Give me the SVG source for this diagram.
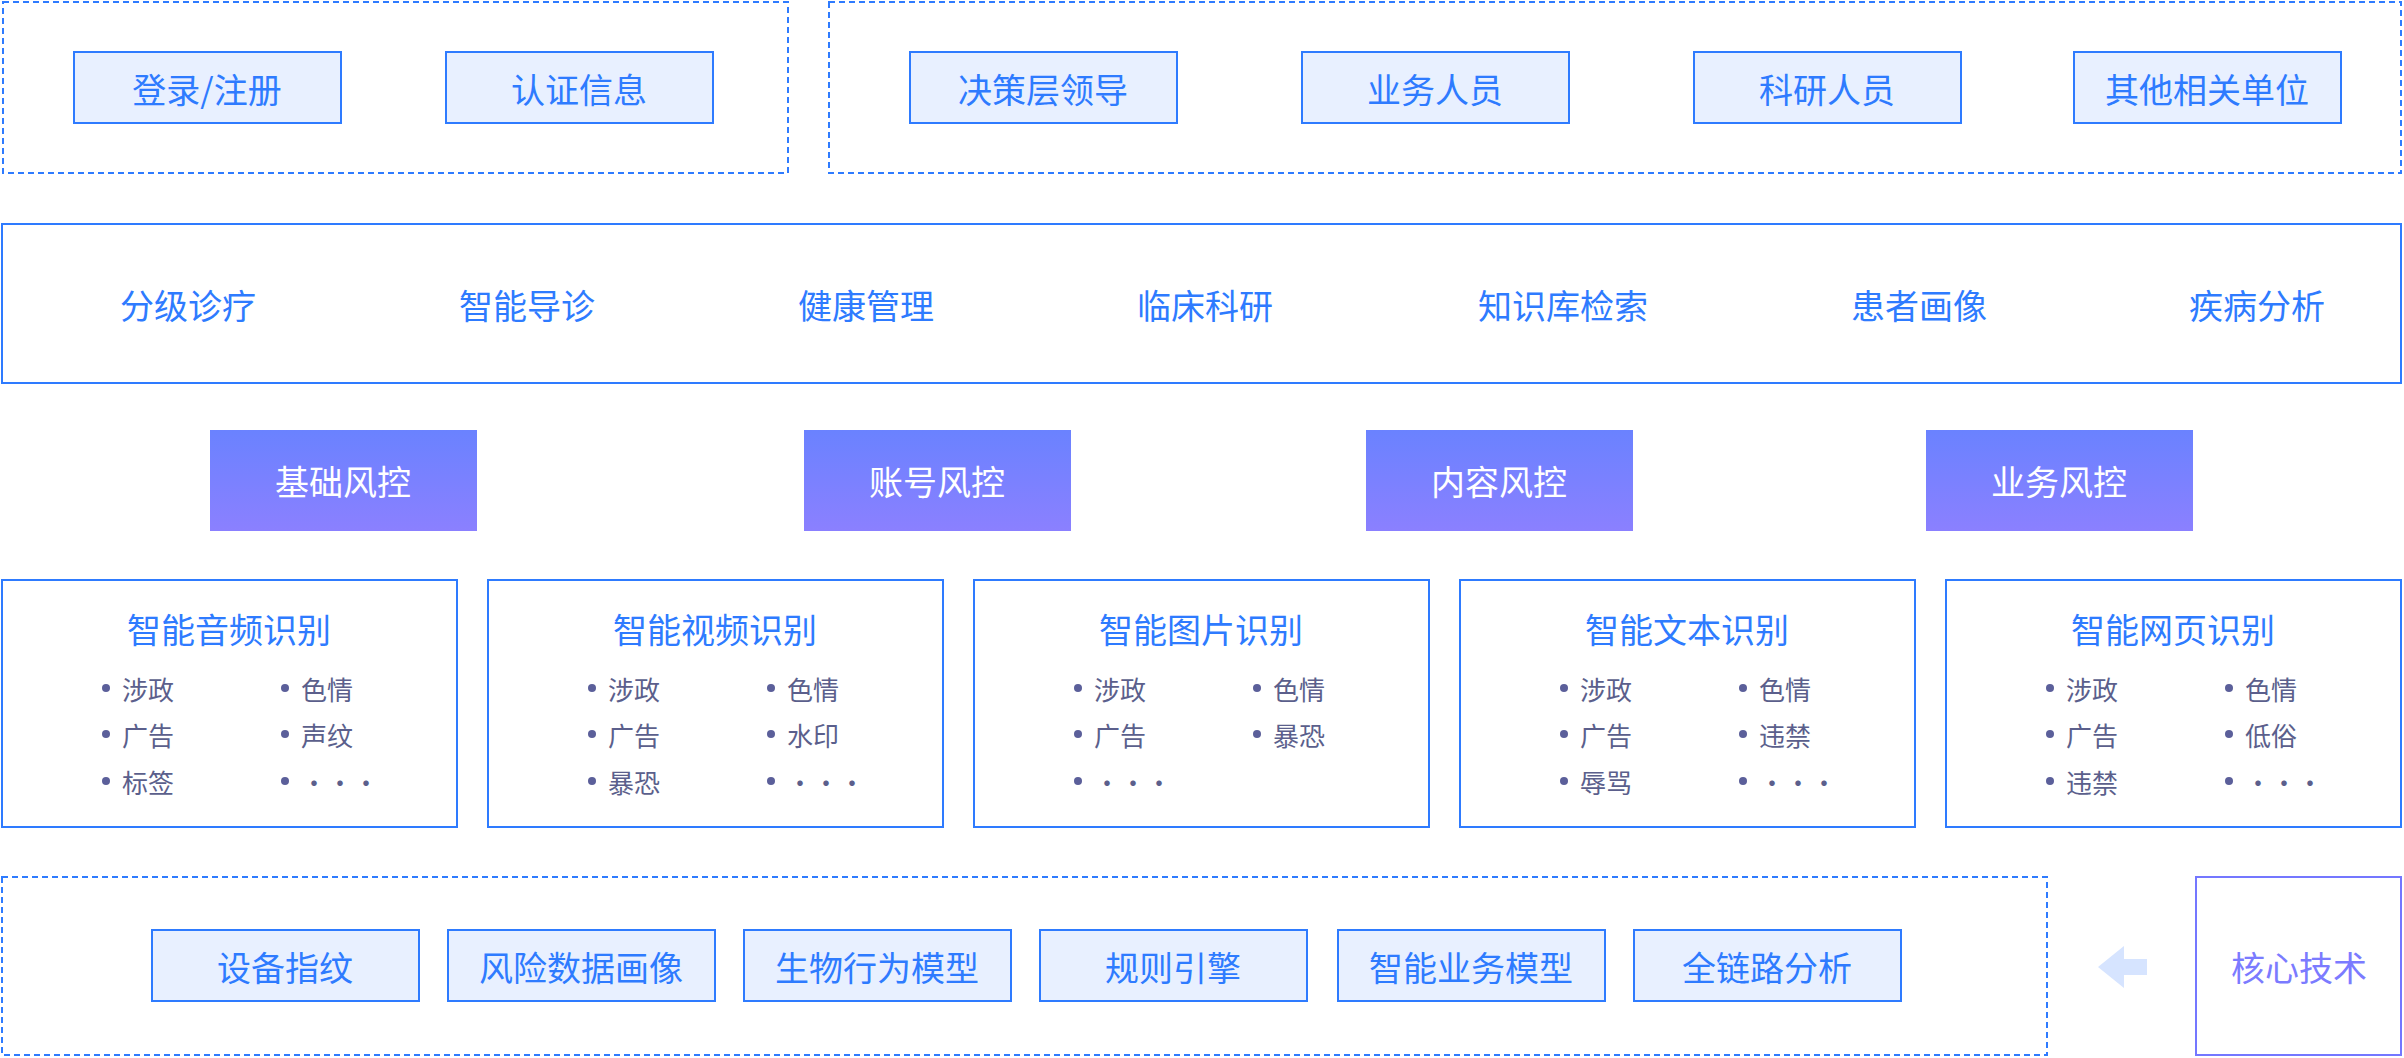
<svg xmlns="http://www.w3.org/2000/svg" width="2404" height="1058" viewBox="0 0 2404 1058">
<style>
text{font-family:"Noto Sans CJK SC","Liberation Sans",sans-serif;text-anchor:middle;dominant-baseline:central}
.dash{fill:none;stroke:#2e7bff;stroke-width:2;stroke-dasharray:6 4}
.lb{fill:#e8f0ff;stroke:#2e7bff;stroke-width:2}
.bt{fill:#2e7bff;font-size:34px}
.frame{fill:#fff;stroke:#2e7bff;stroke-width:2}
.grad{fill:url(#g)}
.wt{fill:#fff;font-size:34px}
.it{fill:#5b5f8c;font-size:26px;text-anchor:start}
.dot{fill:#5b5f9a}
</style>
<defs>
<linearGradient id="g" x1="0" y1="0" x2="0" y2="1"><stop offset="0" stop-color="#6a82ff"/><stop offset="1" stop-color="#8b80ff"/></linearGradient>
</defs>
<rect width="2404" height="1058" fill="#fff"/>
<g id="top-left">
<rect class="dash" x="3" y="2" width="785" height="171"/>
<g id="login"><rect class="lb" x="74" y="52" width="267" height="71"/><text class="bt" x="207" y="88">登录/注册</text></g>
<g id="auth"><rect class="lb" x="446" y="52" width="267" height="71"/><text class="bt" x="579" y="88">认证信息</text></g>
</g>
<g id="top-right">
<rect class="dash" x="829" y="2" width="1572" height="171"/>
<g id="u1"><rect class="lb" x="910" y="52" width="267" height="71"/><text class="bt" x="1043" y="88">决策层领导</text></g>
<g id="u2"><rect class="lb" x="1302" y="52" width="267" height="71"/><text class="bt" x="1435" y="88">业务人员</text></g>
<g id="u3"><rect class="lb" x="1694" y="52" width="267" height="71"/><text class="bt" x="1827" y="88">科研人员</text></g>
<g id="u4"><rect class="lb" x="2074" y="52" width="267" height="71"/><text class="bt" x="2207" y="88">其他相关单位</text></g>
</g>
<g id="apps">
<rect class="frame" x="2" y="224" width="2399" height="159"/>
<text class="bt" x="188" y="304">分级诊疗</text>
<text class="bt" x="527" y="304">智能导诊</text>
<text class="bt" x="866" y="304">健康管理</text>
<text class="bt" x="1205" y="304">临床科研</text>
<text class="bt" x="1563" y="304">知识库检索</text>
<text class="bt" x="1919" y="304">患者画像</text>
<text class="bt" x="2257" y="304">疾病分析</text>
</g>
<g id="rc1"><rect class="grad" x="210" y="430" width="267" height="101"/><text class="wt" x="343" y="480">基础风控</text></g>
<g id="rc2"><rect class="grad" x="804" y="430" width="267" height="101"/><text class="wt" x="937" y="480">账号风控</text></g>
<g id="rc3"><rect class="grad" x="1366" y="430" width="267" height="101"/><text class="wt" x="1499" y="480">内容风控</text></g>
<g id="rc4"><rect class="grad" x="1926" y="430" width="267" height="101"/><text class="wt" x="2059" y="480">业务风控</text></g>
<g id="audio">
<rect class="frame" x="2" y="580" width="455" height="247"/>
<text class="bt" x="229" y="628">智能音频识别</text>
<circle class="dot" cx="106" cy="688" r="4"/><text class="it" x="122" y="688">涉政</text>
<circle class="dot" cx="285" cy="688" r="4"/><text class="it" x="301" y="688">色情</text>
<circle class="dot" cx="106" cy="734" r="4"/><text class="it" x="122" y="734">广告</text>
<circle class="dot" cx="285" cy="734" r="4"/><text class="it" x="301" y="734">声纹</text>
<circle class="dot" cx="106" cy="781" r="4"/><text class="it" x="122" y="781">标签</text>
<circle class="dot" cx="285" cy="781" r="4"/><text class="it" x="301" y="781">···</text>
</g>
<g id="video">
<rect class="frame" x="488" y="580" width="455" height="247"/>
<text class="bt" x="715" y="628">智能视频识别</text>
<circle class="dot" cx="592" cy="688" r="4"/><text class="it" x="608" y="688">涉政</text>
<circle class="dot" cx="771" cy="688" r="4"/><text class="it" x="787" y="688">色情</text>
<circle class="dot" cx="592" cy="734" r="4"/><text class="it" x="608" y="734">广告</text>
<circle class="dot" cx="771" cy="734" r="4"/><text class="it" x="787" y="734">水印</text>
<circle class="dot" cx="592" cy="781" r="4"/><text class="it" x="608" y="781">暴恐</text>
<circle class="dot" cx="771" cy="781" r="4"/><text class="it" x="787" y="781">···</text>
</g>
<g id="image">
<rect class="frame" x="974" y="580" width="455" height="247"/>
<text class="bt" x="1201" y="628">智能图片识别</text>
<circle class="dot" cx="1078" cy="688" r="4"/><text class="it" x="1094" y="688">涉政</text>
<circle class="dot" cx="1257" cy="688" r="4"/><text class="it" x="1273" y="688">色情</text>
<circle class="dot" cx="1078" cy="734" r="4"/><text class="it" x="1094" y="734">广告</text>
<circle class="dot" cx="1257" cy="734" r="4"/><text class="it" x="1273" y="734">暴恐</text>
<circle class="dot" cx="1078" cy="781" r="4"/><text class="it" x="1094" y="781">···</text>
</g>
<g id="textrec">
<rect class="frame" x="1460" y="580" width="455" height="247"/>
<text class="bt" x="1687" y="628">智能文本识别</text>
<circle class="dot" cx="1564" cy="688" r="4"/><text class="it" x="1580" y="688">涉政</text>
<circle class="dot" cx="1743" cy="688" r="4"/><text class="it" x="1759" y="688">色情</text>
<circle class="dot" cx="1564" cy="734" r="4"/><text class="it" x="1580" y="734">广告</text>
<circle class="dot" cx="1743" cy="734" r="4"/><text class="it" x="1759" y="734">违禁</text>
<circle class="dot" cx="1564" cy="781" r="4"/><text class="it" x="1580" y="781">辱骂</text>
<circle class="dot" cx="1743" cy="781" r="4"/><text class="it" x="1759" y="781">···</text>
</g>
<g id="web">
<rect class="frame" x="1946" y="580" width="455" height="247"/>
<text class="bt" x="2173" y="628">智能网页识别</text>
<circle class="dot" cx="2050" cy="688" r="4"/><text class="it" x="2066" y="688">涉政</text>
<circle class="dot" cx="2229" cy="688" r="4"/><text class="it" x="2245" y="688">色情</text>
<circle class="dot" cx="2050" cy="734" r="4"/><text class="it" x="2066" y="734">广告</text>
<circle class="dot" cx="2229" cy="734" r="4"/><text class="it" x="2245" y="734">低俗</text>
<circle class="dot" cx="2050" cy="781" r="4"/><text class="it" x="2066" y="781">违禁</text>
<circle class="dot" cx="2229" cy="781" r="4"/><text class="it" x="2245" y="781">···</text>
</g>
<g id="tech">
<rect class="dash" x="2" y="877" width="2045" height="178"/>
<g id="t1"><rect class="lb" x="152" y="930" width="267" height="71"/><text class="bt" x="285" y="966">设备指纹</text></g>
<g id="t2"><rect class="lb" x="448" y="930" width="267" height="71"/><text class="bt" x="581" y="966">风险数据画像</text></g>
<g id="t3"><rect class="lb" x="744" y="930" width="267" height="71"/><text class="bt" x="877" y="966">生物行为模型</text></g>
<g id="t4"><rect class="lb" x="1040" y="930" width="267" height="71"/><text class="bt" x="1173" y="966">规则引擎</text></g>
<g id="t5"><rect class="lb" x="1338" y="930" width="267" height="71"/><text class="bt" x="1471" y="966">智能业务模型</text></g>
<g id="t6"><rect class="lb" x="1634" y="930" width="267" height="71"/><text class="bt" x="1767" y="966">全链路分析</text></g>
</g>
<g id="connectors">
<polygon points="2098,967 2124,946 2124,959 2147,959 2147,975 2124,975 2124,988" fill="#d6e4ff"/>
</g>
<g id="core">
<rect x="2196" y="877" width="205" height="178" fill="#fff" stroke="#7477ff" stroke-width="2"/>
<text x="2299" y="966" style="fill:#7b7bff;font-size:34px">核心技术</text>
</g>
</svg>
